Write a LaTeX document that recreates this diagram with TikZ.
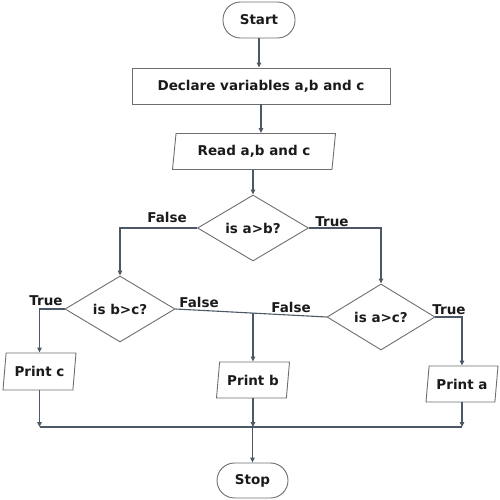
\documentclass[tikz,border=0pt]{standalone}
\usepackage{fontspec}
\setmainfont{DejaVu Sans}
\usetikzlibrary{shapes.geometric,arrows.meta,calc}
\definecolor{linec}{HTML}{4D5866}
\definecolor{boxc}{HTML}{6E6E6E}
\definecolor{txtc}{HTML}{1A1A1A}
\begin{document}
\begin{tikzpicture}[x=1pt,y=-1pt,
  font=\fontsize{13.5}{15}\selectfont\bfseries, text=txtc,
  base/.style={draw=boxc, line width=0.9pt, inner sep=1pt, align=center},
  term/.style={base, rounded corners=17.5pt, minimum width=72pt, minimum height=36pt},
  procbox/.style={base, minimum width=258pt, minimum height=36pt},
  io/.style={base, trapezium, trapezium left angle=76, trapezium right angle=104,
    trapezium stretches body, minimum height=36pt},
  dec/.style={base, diamond, inner sep=0pt, minimum width=110pt, minimum height=66pt},
  ln/.style={draw=linec, line width=1.1pt},
  arr/.style={ln, -{Triangle[length=5pt,width=4.5pt]}},
  lab/.style={inner sep=0pt}
]
\useasboundingbox (0,0) rectangle (500,500);
\node[term] (start) at (259,20) {Start};
\node[procbox] (decl) at (261,86) {Declare variables a,b and c};
\node[io, minimum width=163pt] (read) at (254,151.5) {Read a,b and c};
\node[dec, minimum width=111pt] (ab) at (253,228) {is a>b?};
\node[dec] (bc) at (120,309) {is b>c?};
\node[dec, minimum width=108pt] (ac) at (381,317) {is a>c?};
\node[io, minimum width=73pt, minimum height=37pt] (pc) at (39.5,371.5) {Print c};
\node[io, minimum width=73pt] (pb) at (253,380) {Print b};
\node[io, minimum width=72pt] (pa) at (462,384) {Print a};
\node[term, minimum width=71pt, minimum height=35pt] (stop) at (252.5,480.5) {Stop};
\coordinate (bus) at (0,427);

\draw[arr] (start.south) -- (start.south |- decl.north);
\draw[arr] (decl.south) -- (decl.south |- read.north);
\draw[arr] (ab.north |- read.south) -- (ab.north);
\draw[arr] (ab.west) -| (bc.north);
\draw[arr] (ab.east) -| (ac.north);
\draw[arr] (bc.west) -| (pc.center |- pc.north);
\draw[arr] (ac.east) -| (pa.center |- pa.north);
\draw[ln] (bc.east) -- coordinate[pos=0.513] (mid) (ac.west);
\draw[arr] (mid) -- (mid |- pb.north);
\draw[arr] (pc.center |- pc.south) -- (pc.center |- bus);
\draw[arr] (pb.center |- pb.south) -- (pb.center |- bus);
\draw[arr] (pa.center |- pa.south) -- (pa.center |- bus);
\draw[ln] (pc.center |- bus) -- (pa.center |- bus);
\draw[arr] (stop.north |- bus) -- (stop.north);

\node[lab] (l1) at (167,217) {False};
\node[lab] (l2) at (332,222) {True};
\node[lab] (l3) at (46,301) {True};
\node[lab] (l4) at (199,302) {False};
\node[lab] (l5) at (291,307) {False};
\node[lab] (l6) at (449,310) {True};
\end{tikzpicture}
\end{document}
